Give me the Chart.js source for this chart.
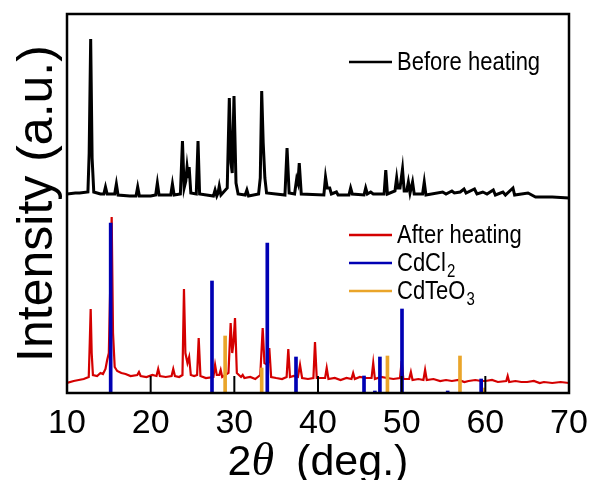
<!DOCTYPE html>
<html>
<head>
<meta charset="utf-8">
<script src="https://cdn.jsdelivr.net/npm/chart.js@4.4.0/dist/chart.umd.min.js"></script>
<style>
  html, body { margin: 0; padding: 0; background: #fff; }
</style>
</head>
<body>
<canvas id="xrd" width="595" height="480"></canvas>
<script>
// 2-theta positions (deg.) and intensities (a.u., already offset as plotted)
const beforeAngle = [10.0, 11.0, 11.5, 12.5, 12.65, 12.83, 13.0, 13.2, 14.0, 14.4, 14.6, 14.8, 15.7, 15.9, 16.1,
  17.5, 18.25, 18.45, 18.65, 20.0, 20.6, 20.8, 21.0, 22.4, 22.6, 22.8, 23.55, 23.8, 24.0, 24.2, 24.35,
  24.5, 24.6, 24.8, 25.45, 25.66, 25.85, 27.5, 27.7, 27.9, 28.05, 28.2, 28.4, 29.15, 29.4, 29.6, 29.75,
  29.96, 30.2, 30.45, 31.3, 31.5, 31.7, 32.9, 33.1, 33.27, 33.45, 33.65, 33.85, 36.05, 36.3, 36.55, 37.2,
  37.45, 37.6, 37.76, 38.0, 40.7, 40.9, 41.1, 41.4, 41.6, 42.2, 42.4, 43.7, 43.9, 44.1, 45.5, 45.7,
  45.9, 46.3, 46.6, 47.9, 48.1, 48.3, 49.2, 49.4, 49.55, 49.8, 50.1, 50.3, 50.6, 50.8, 51.0, 51.3,
  51.5, 52.5, 52.7, 52.9, 54.9, 55.3, 56.0, 56.3, 57.0, 57.45, 57.7, 58.7, 59.0, 59.7, 60.2, 60.95,
  61.2, 62.1, 62.4, 63.3, 63.5, 65.1, 66.0, 68.0, 70.0];
const beforeInt = [199, 200, 200, 201, 240, 354, 235, 201, 199, 199, 206, 199, 199, 209, 198,
  197, 197, 206, 197, 197, 198, 210, 198, 198, 209, 198, 199, 252, 205, 212, 226,
  215, 226, 200, 199, 252, 199, 197, 203, 197, 200, 207, 198, 205, 295, 230, 220,
  297, 210, 199, 198, 203, 197, 199, 215, 302, 250, 215, 200, 198, 245, 200, 199,
  214, 210, 230, 199, 198, 216, 205, 205, 199, 201, 198, 198, 205, 199, 198, 205,
  199, 201, 199, 199, 223, 199, 202, 215, 205, 205, 224, 202, 202, 211, 200, 211,
  199, 199, 211, 198, 201, 199, 202, 200, 201, 204, 200, 204, 199, 201, 199, 203,
  198, 201, 198, 205, 198, 200, 196, 196, 195];

const afterAngle = [10.0, 10.8, 11.4, 12.0, 12.6, 12.72, 12.83, 12.95, 13.1, 13.6, 14.0, 14.3, 14.6, 14.8, 15.0,
  15.15, 15.34, 15.5, 15.7, 16.0, 16.5, 17.0, 17.6, 18.4, 18.6, 18.8, 19.5, 20.2, 20.7, 20.9, 21.1,
  21.8, 22.5, 22.7, 22.9, 23.4, 23.8, 23.98, 24.15, 24.4, 24.6, 24.8, 25.2, 25.55, 25.74, 25.95, 26.6,
  27.5, 27.7, 27.9, 28.2, 28.37, 28.55, 29.3, 29.56, 29.75, 29.9, 30.08, 30.3, 30.8, 31.0, 31.2, 31.9,
  32.5, 33.1, 33.39, 33.6, 34.0, 34.18, 34.4, 35.0, 35.7, 36.25, 36.45, 36.65, 37.1, 37.6, 37.85, 38.1,
  38.8, 39.45, 39.64, 39.85, 40.85, 41.04, 41.25, 42.0, 42.7, 43.4, 44.0, 44.2, 44.4, 45.0, 45.7, 46.4,
  46.6, 46.8, 47.5, 48.3, 49.0, 49.8, 50.0, 50.2, 50.9, 51.1, 51.3, 52.0, 52.6, 52.8, 53.0, 53.8,
  54.6, 55.3, 56.0, 56.8, 57.5, 58.0, 58.8, 59.5, 60.0, 60.8, 61.5, 62.5, 62.67, 62.85, 63.6, 64.3,
  65.0, 65.8, 66.5, 67.0, 68.0, 69.0, 70.0];
const afterInt = [10, 12, 13, 14, 16, 50, 84, 40, 18, 17, 20, 19, 24, 33, 40,
  100, 176, 60, 26, 22, 20, 19, 17, 18, 21, 17, 16, 18, 17, 24, 17,
  16, 17, 24, 17, 16, 18, 104, 40, 30, 36, 18, 17, 18, 55, 17, 15,
  16, 28, 18, 18, 23, 16, 20, 70, 40, 50, 75, 20, 16, 18, 15, 16,
  14, 18, 65, 30, 28, 45, 16, 15, 14, 16, 44, 16, 17, 16, 28, 15,
  14, 15, 51, 15, 15, 25, 14, 15, 13, 15, 14, 20, 14, 16, 15, 15,
  30, 14, 16, 15, 14, 15, 32, 14, 14, 21, 13, 14, 13, 23, 13, 14,
  12, 13, 12, 13, 11, 12, 13, 12, 12, 13, 11, 12, 17, 11, 12, 11,
  11, 12, 10, 11, 10, 11, 10];

// reference patterns
const cdcl2Angle = [15.22, 27.33, 33.94, 37.37, 45.5, 46.8, 47.4, 50.04, 55.5, 59.5];
const cdcl2Int = [170, 112, 150, 36, 17, 2, 36, 84, 2, 14];
const cdteo3Angle = [28.9, 33.27, 48.3, 56.97, 59.76];
const cdteo3Int = [57, 25, 37, 37, 5];

const xTicks = [10, 20, 30, 40, 50, 60, 70];

const pts = (xs, ys) => xs.map((x, i) => ({ x: x, y: ys[i] }));

const SANS = '"Liberation Sans", Arial, sans-serif';

const decor = {
  id: 'decor',
  afterDatasetsDraw(chart) {
    const ctx = chart.ctx;
    const a = chart.chartArea;
    const xs = chart.scales.x;
    ctx.save();
    // inward ticks
    ctx.strokeStyle = '#000';
    ctx.lineWidth = 2;
    xTicks.forEach(v => {
      const px = xs.getPixelForValue(v);
      ctx.beginPath();
      ctx.moveTo(px, a.bottom);
      ctx.lineTo(px, a.bottom - 17);
      ctx.stroke();
    });
    // frame
    ctx.lineWidth = 2.5;
    ctx.strokeRect(a.left, a.top, a.right - a.left, a.bottom - a.top);

    // legends
    const items = [
      { y: 62, color: '#000000', text: 'Before heating', sub: '' },
      { y: 235, color: '#d40000', text: 'After heating', sub: '' },
      { y: 263, color: '#0000b4', text: 'CdCl', sub: '2' },
      { y: 291, color: '#eaa52a', text: 'CdTeO', sub: '3' }
    ];
    items.forEach(it => {
      ctx.strokeStyle = it.color;
      ctx.lineWidth = 2.5;
      ctx.beginPath();
      ctx.moveTo(349, it.y);
      ctx.lineTo(392, it.y);
      ctx.stroke();
      ctx.save();
      ctx.translate(397, it.y + 1);
      ctx.scale(1, 1.2);
      ctx.fillStyle = '#000';
      ctx.textBaseline = 'middle';
      ctx.textAlign = 'left';
      ctx.font = '22px ' + SANS;
      ctx.fillText(it.text, 0, 0);
      if (it.sub) {
        const w = ctx.measureText(it.text).width;
        ctx.font = '15px ' + SANS;
        ctx.fillText(it.sub, w + 1, 7);
      }
      ctx.restore();
    });

    // x title: 2θ (deg.)
    ctx.fillStyle = '#000';
    ctx.textBaseline = 'alphabetic';
    ctx.textAlign = 'left';
    const parts = [
      { t: '2', f: '43px ' + SANS },
      { t: 'θ', f: 'italic 46px "Liberation Serif", "Times New Roman", serif' },
      { t: ' (deg.)', f: '43px ' + SANS }
    ];
    let total = 0;
    parts.forEach(p => { ctx.font = p.f; p.w = ctx.measureText(p.t).width; total += p.w; });
    total += 10;
    let cx = (a.left + a.right) / 2 - total / 2;
    parts.forEach((p, i) => {
      ctx.font = p.f;
      ctx.fillText(p.t, cx, 475);
      cx += p.w + (i === 1 ? 10 : 0);
    });
    ctx.restore();
  }
};

new Chart(document.getElementById('xrd'), {
  type: 'line',
  data: {
    datasets: [
      {
        type: 'bar', label: 'CdCl2', data: pts(cdcl2Angle, cdcl2Int),
        backgroundColor: '#0000b4', barThickness: 3, grouped: false, order: 0
      },
      {
        type: 'bar', label: 'CdTeO3', data: pts(cdteo3Angle, cdteo3Int),
        backgroundColor: '#eaa52a', barThickness: 3, grouped: false, order: 0
      },
      {
        label: 'After heating', data: pts(afterAngle, afterInt),
        borderColor: '#d40000', borderWidth: 2.2, pointRadius: 0, tension: 0, order: 3
      },
      {
        label: 'Before heating', data: pts(beforeAngle, beforeInt),
        borderColor: '#000000', borderWidth: 3, pointRadius: 0, tension: 0, order: 3
      }
    ]
  },
  options: {
    responsive: false,
    animation: false,
    events: [],
    layout: { padding: { top: 14, right: 26, left: 0, bottom: 0 } },
    plugins: { legend: { display: false }, tooltip: { enabled: false } },
    scales: {
      x: {
        type: 'linear', min: 10, max: 70, offset: false,
        grid: { display: false, drawTicks: false },
        border: { display: false },
        ticks: {
          stepSize: 10, autoSkip: false, maxRotation: 0, color: '#000', padding: 10,
          font: { family: SANS, size: 34 }
        },
        afterFit(s) { s.height = 87; s.paddingRight = 0; s.paddingLeft = 0; }
      },
      y: {
        min: 0, max: 379,
        grid: { display: false, drawTicks: false },
        border: { display: false },
        ticks: { display: false },
        title: {
          display: true, text: 'Intensity (a.u.)', color: '#000', padding: { top: 8, bottom: 0 },
          font: { family: SANS, size: 50 }
        },
        afterFit(s) { s.width = 67; }
      }
    }
  },
  plugins: [decor]
});
</script>
</body>
</html>
